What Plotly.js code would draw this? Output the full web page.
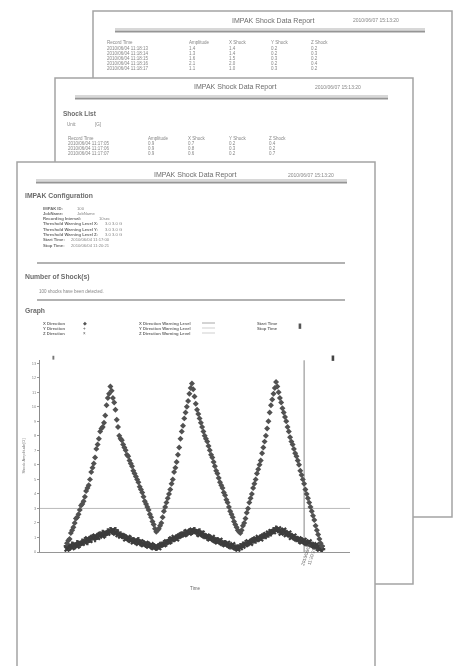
<!DOCTYPE html>
<html><head><meta charset="utf-8">
<script src="https://cdn.plot.ly/plotly-3.0.1.min.js"></script>
<style>html,body{margin:0;padding:0;background:#fff}#chart{width:459px;height:666px;filter:grayscale(1)}</style>
</head><body><div id="chart"></div>
<script>
// ---- chart data (X direction sampled every half step, Y/Z every step) ----
const xDirection = [
  0.6, 0.8, 0.9, 1.3, 1.5, 1.7, 2.0, 2.3, 2.4, 2.6, 2.9, 3.2, 3.3, 3.5, 3.8, 4.2, 4.4, 4.6,
  5.0, 5.5, 5.8, 6.1, 6.5, 7.1, 7.4, 7.8, 8.3, 8.5, 8.6, 8.9, 9.4, 10.1, 10.6, 10.9, 11.4,
  11.1, 10.6, 10.3, 9.8, 9.1, 8.6, 8.0, 7.8, 7.7, 7.4, 7.2, 7.0, 6.7, 6.6, 6.3, 6.1, 5.9, 5.6,
  5.4, 5.2, 5.0, 4.8, 4.5, 4.3, 4.1, 3.8, 3.5, 3.3, 3.1, 2.9, 2.6, 2.4, 2.1, 1.9, 1.6, 1.4,
  1.5, 1.6, 1.8, 2.0, 2.4, 2.8, 3.1, 3.4, 3.7, 4.0, 4.3, 4.7, 5.0, 5.5, 5.8, 6.2, 6.7, 7.2,
  7.8, 8.3, 8.7, 9.2, 9.6, 10.0, 10.4, 10.9, 11.3, 11.6,
  11.2, 10.7, 10.2, 9.8, 9.5, 9.2, 8.9, 8.6, 8.3, 8.0, 7.8, 7.6, 7.3, 7.0, 6.7, 6.5, 6.2, 5.9,
  5.6, 5.4, 5.1, 4.8, 4.6, 4.4, 4.1, 3.9, 3.6, 3.4, 3.1, 2.8, 2.6, 2.4, 2.1, 1.9, 1.7, 1.5, 1.4, 1.3,
  1.5, 1.8, 2.0, 2.3, 2.7, 3.0, 3.4, 3.7, 4.0, 4.4, 4.7, 5.0, 5.4, 5.7, 6.0, 6.3, 6.8, 7.2,
  7.6, 8.0, 8.5, 9.0, 9.6, 10.1, 10.5, 10.9, 11.3, 11.7,
  11.4, 11.0, 10.6, 10.3, 9.9, 9.6, 9.3, 9.0, 8.6, 8.3, 7.9, 7.6, 7.4, 7.1, 6.8, 6.6, 6.3, 6.0,
  5.6, 5.3, 5.0, 4.7, 4.3, 4.0, 3.7, 3.4, 3.1, 2.8, 2.5, 2.2, 1.8, 1.5, 1.2, 0.9, 0.6, 0.4
];
const yDirection = [
  0.4, 0.3, 0.5, 0.4, 0.6, 0.5, 0.7, 0.8, 0.7, 0.9, 1.0, 0.9, 1.1, 1.2, 1.3, 1.2, 1.4, 1.5,
  1.4, 1.5, 1.3, 1.2, 1.1, 1.0, 0.9, 0.9, 0.8, 0.7, 0.8, 0.6, 0.6, 0.5, 0.5, 0.4, 0.4, 0.3,
  0.4, 0.5, 0.6, 0.6, 0.8, 0.8, 0.9, 1.0, 1.1, 1.2, 1.3, 1.3, 1.4, 1.4,
  1.5, 1.3, 1.4, 1.2, 1.1, 1.0, 1.0, 0.9, 0.8, 0.8, 0.7, 0.6, 0.6, 0.5, 0.4, 0.4, 0.3, 0.3, 0.4,
  0.5, 0.6, 0.6, 0.7, 0.8, 0.8, 0.9, 1.0, 1.1, 1.1, 1.2, 1.3, 1.5, 1.6,
  1.5, 1.4, 1.4, 1.3, 1.2, 1.1, 1.0, 0.9, 0.8, 0.8, 0.7, 0.6, 0.6, 0.5, 0.4, 0.3, 0.3, 0.2
];
const zDirection = [
  0.2, 0.4, 0.3, 0.5, 0.4, 0.6, 0.6, 0.7, 0.9, 0.8, 1.0, 1.1, 1.0, 1.2, 1.1, 1.3, 1.3, 1.4,
  1.5, 1.3, 1.2, 1.1, 1.1, 0.9, 1.0, 0.8, 0.7, 0.8, 0.6, 0.7, 0.5, 0.6, 0.4, 0.5, 0.3, 0.4,
  0.3, 0.5, 0.5, 0.7, 0.7, 0.9, 1.0, 0.9, 1.1, 1.2, 1.2, 1.4, 1.3, 1.5,
  1.4, 1.4, 1.2, 1.3, 1.1, 1.1, 0.9, 1.0, 0.8, 0.7, 0.8, 0.6, 0.5, 0.6, 0.4, 0.5, 0.3, 0.2, 0.3,
  0.4, 0.5, 0.7, 0.6, 0.8, 0.9, 1.0, 0.9, 1.1, 1.2, 1.3, 1.4, 1.4, 1.5,
  1.6, 1.3, 1.5, 1.2, 1.3, 1.0, 1.1, 0.9, 0.9, 0.7, 0.8, 0.6, 0.7, 0.5, 0.4, 0.5, 0.2, 0.3
];
const yTickValues = [0, 1, 2, 3, 4, 5, 6, 7, 8, 9, 10, 11, 12, 13];
const xWarningLevel = 3;
const stopIndex = 93;
const stopTimeLabel = "2010/06/04<br>11:20:21";

// ---- report text ----
const reportTitle = "IMPAK Shock Data Report";
const reportDate = "2010/06/07 15:13:20";
const tableHeads = ["Record Time", "Amplitude", "X Shock", "Y Shock", "Z Shock"];
const backRows = [
  ["2010/06/04 11:18:13", "1.4", "1.4", "0.2", "0.2"],
  ["2010/06/04 11:18:14", "1.3", "1.4", "0.2", "0.3"],
  ["2010/06/04 11:18:15", "1.6", "1.5", "0.3", "0.2"],
  ["2010/06/04 11:18:16", "2.1", "2.0", "0.2", "0.4"],
  ["2010/06/04 11:18:17", "1.1", "1.0", "0.3", "0.2"]
];
const middleRows = [
  ["2010/06/04 11:17:05", "0.9", "0.7", "0.2", "0.4"],
  ["2010/06/04 11:17:06", "0.9", "0.8", "0.3", "0.2"],
  ["2010/06/04 11:17:07", "0.9", "0.6", "0.2", "0.7"]
];
const configLabels = ["IMPAK ID:", "JobName:", "Recording Interval:", "Threshold Warning Level X:",
  "Threshold Warning Level Y:", "Threshold Warning Level Z:", "Start Time:", "Stop Time:"];
const configValues = ["100", "JobName", "10sec", "3.0 3.0 G", "3.0 3.0 G", "3.0 3.0 G",
  "2010/06/04 11:17:00", "2010/06/04 11:20:21"];
const legendDirections = ["X Direction", "Y Direction", "Z Direction"];
const legendSymbols = ["◆", "+", "×"];
const legendWarnings = ["X Direction Warning Level", "Y Direction Warning Level", "Z Direction Warning Level"];

// ---- layout helpers ----
const W = 459, H = 666;
const FONT = "Liberation Sans, Arial, sans-serif";
const px = v => v / W, py = v => 1 - v / H;
const ann = [];
function T(x, y, text, size, color, extra) {
  ann.push(Object.assign({xref: 'paper', yref: 'paper', x: px(x), y: py(y), text: text,
    showarrow: false, xanchor: 'left', yanchor: 'middle', borderpad: 0,
    font: {family: FONT, size: size, color: color}}, extra || {}));
}
const shapes = [];
function rect(x0, y0, x1, y1, fill, line, lw) {
  shapes.push({type: 'rect', xref: 'paper', yref: 'paper', layer: 'below',
    x0: px(x0), x1: px(x1), y0: py(y1), y1: py(y0), fillcolor: fill,
    line: {color: line, width: lw}});
}
function hline(x0, x1, y, color, lw) {
  shapes.push({type: 'line', xref: 'paper', yref: 'paper', layer: 'below',
    x0: px(x0), x1: px(x1), y0: py(y), y1: py(y), line: {color: color, width: lw}});
}
const SHEET_LINE = '#a8a2a2', TXT = '#8a8686', TXT2 = '#6f6b6b';

// back sheet
rect(93, 11, 452, 517, '#ffffff', SHEET_LINE, 1.5);
T(273, 21, reportTitle, 7, TXT2, {xanchor: 'center'});
T(352, 20, reportDate, 5, TXT);
hline(115, 425, 29, '#b5b0b0', 1); hline(115, 425, 31.5, '#999494', 2);
const backCols = [106, 188, 228, 270, 310];
tableHeads.forEach((h, i) => T(backCols[i], 42, h, 4.5, TXT));
backRows.forEach((r, j) => r.forEach((c, i) => T(backCols[i], 48.5 + j * 5, c, 4.5, TXT)));

// middle sheet
rect(55, 78, 413, 584, '#ffffff', SHEET_LINE, 1.5);
T(235, 87, reportTitle, 7, TXT2, {xanchor: 'center'});
T(314, 87, reportDate, 5, TXT);
hline(75, 388, 96, '#b5b0b0', 1); hline(75, 388, 98.5, '#999494', 2);
T(62, 113, "<b>Shock List</b>", 6.5, TXT2);
T(66, 124, "Unit:", 4.5, TXT); T(94, 124, "[G]", 4.5, TXT);
const midCols = [67, 147, 187, 228, 268];
tableHeads.forEach((h, i) => T(midCols[i], 138, h, 4.5, TXT));
middleRows.forEach((r, j) => r.forEach((c, i) => T(midCols[i], 143 + j * 5, c, 4.5, TXT)));

// front sheet
rect(17, 162, 375, 690, '#ffffff', SHEET_LINE, 1.5);
T(195, 175, reportTitle, 7, TXT2, {xanchor: 'center'});
T(287, 175, reportDate, 5, TXT);
hline(36, 347, 180, '#b5b0b0', 1); hline(36, 347, 182.5, '#999494', 2);
T(24, 196, "<b>IMPAK Configuration</b>", 6.8, TXT2);
const cfgValX = [76, 76, 98, 104, 104, 104, 70, 70];
configLabels.forEach((l, i) => {
  T(42, 208 + i * 5.3, "<b>" + l + "</b>", 4.2, TXT2);
  T(cfgValX[i], 208 + i * 5.3, configValues[i], 4.2, TXT);
});
hline(37, 345, 263, '#9c9797', 1.5);
T(24, 277, "<b>Number of Shock(s)</b>", 6.8, TXT2);
T(38, 291, "100 shocks have been detected.", 4.5, TXT);
hline(37, 345, 300, '#9c9797', 1.5);
T(24, 311, "<b>Graph</b>", 6.8, TXT2);
legendDirections.forEach((l, i) => {
  T(42, 323 + i * 5, "<b>" + l + "</b>", 4.2, TXT2);
  T(82, 323 + i * 5, legendSymbols[i], 4.5, '#555');
});
legendWarnings.forEach((l, i) => {
  T(138, 323 + i * 5, "<b>" + l + "</b>", 4.2, TXT2);
  hline(202, 215, 323 + i * 5, i === 0 ? '#a8a8a8' : '#cfcfcf', 1);
});
T(256, 323, "<b>Start Time</b>", 4.2, TXT2);
T(256, 328, "<b>Stop Time</b>", 4.2, TXT2);
T(297, 325.5, "▮", 7, '#555');

// start/stop flags on the graph
T(51, 357, "▮", 5, '#777');
T(330, 357, "▮", 7, '#444');

// rotated stop-time label
ann.push({xref: 'x', yref: 'paper', x: stopIndex + 2, y: py(571), text: stopTimeLabel,
  showarrow: false, textangle: -72, font: {family: FONT, size: 4.5, color: '#555'}});

// warning line and stop line (data refs)
shapes.push({type: 'line', xref: 'x domain', yref: 'y', x0: 0, x1: 1, y0: xWarningLevel, y1: xWarningLevel,
  line: {color: '#bdb8b8', width: 1}, layer: 'below'});
shapes.push({type: 'line', xref: 'x', yref: 'y', x0: stopIndex, x1: stopIndex, y0: -0.4, y1: 13.2,
  line: {color: '#8a8585', width: 1}, layer: 'below'});

const halfIdx = xDirection.map((_, i) => i / 2);
const idx = yDirection.map((_, i) => i);
const traces = [
  {x: idx, y: yDirection, type: 'scatter', mode: 'markers', name: 'Y Direction',
   marker: {symbol: 'cross', size: 5.5, color: '#4a4646'}},
  {x: idx, y: zDirection, type: 'scatter', mode: 'markers', name: 'Z Direction',
   marker: {symbol: 'x', size: 5.5, color: '#3f3b3b'}},
  {x: halfIdx, y: xDirection, type: 'scatter', mode: 'markers', name: 'X Direction',
   marker: {symbol: 'diamond', size: 4.6, color: '#555050'}}
];

const layout = {
  width: W, height: H, margin: {l: 0, r: 0, t: 0, b: 0},
  paper_bgcolor: '#ffffff', plot_bgcolor: 'rgba(0,0,0,0)', showlegend: false,
  font: {family: FONT, color: '#777'},
  xaxis: {domain: [px(40), px(350)], range: [-10.6, 111], showgrid: false, zeroline: false,
    showticklabels: false, ticks: '', showline: true, linecolor: '#9a9595', linewidth: 1.2,
    automargin: false,
    title: {text: 'Time', font: {size: 4.5, color: '#666', family: FONT}, standoff: 34}},
  yaxis: {domain: [1 - 552 / H, 1 - 360 / H], range: [0, 13.22], tickvals: yTickValues,
    showgrid: false, zeroline: false, showline: true, linecolor: '#8f8a8a', linewidth: 1,
    ticks: 'outside', ticklen: 2, tickcolor: '#999', tickfont: {size: 4, color: '#888', family: FONT},
    automargin: false,
    title: {text: 'Shock Amplitude[G]', font: {size: 4, color: '#777', family: FONT}, standoff: 6}},
  shapes: shapes, annotations: ann
};
Plotly.newPlot('chart', traces, layout, {displayModeBar: false, staticPlot: true});
</script></body></html>
